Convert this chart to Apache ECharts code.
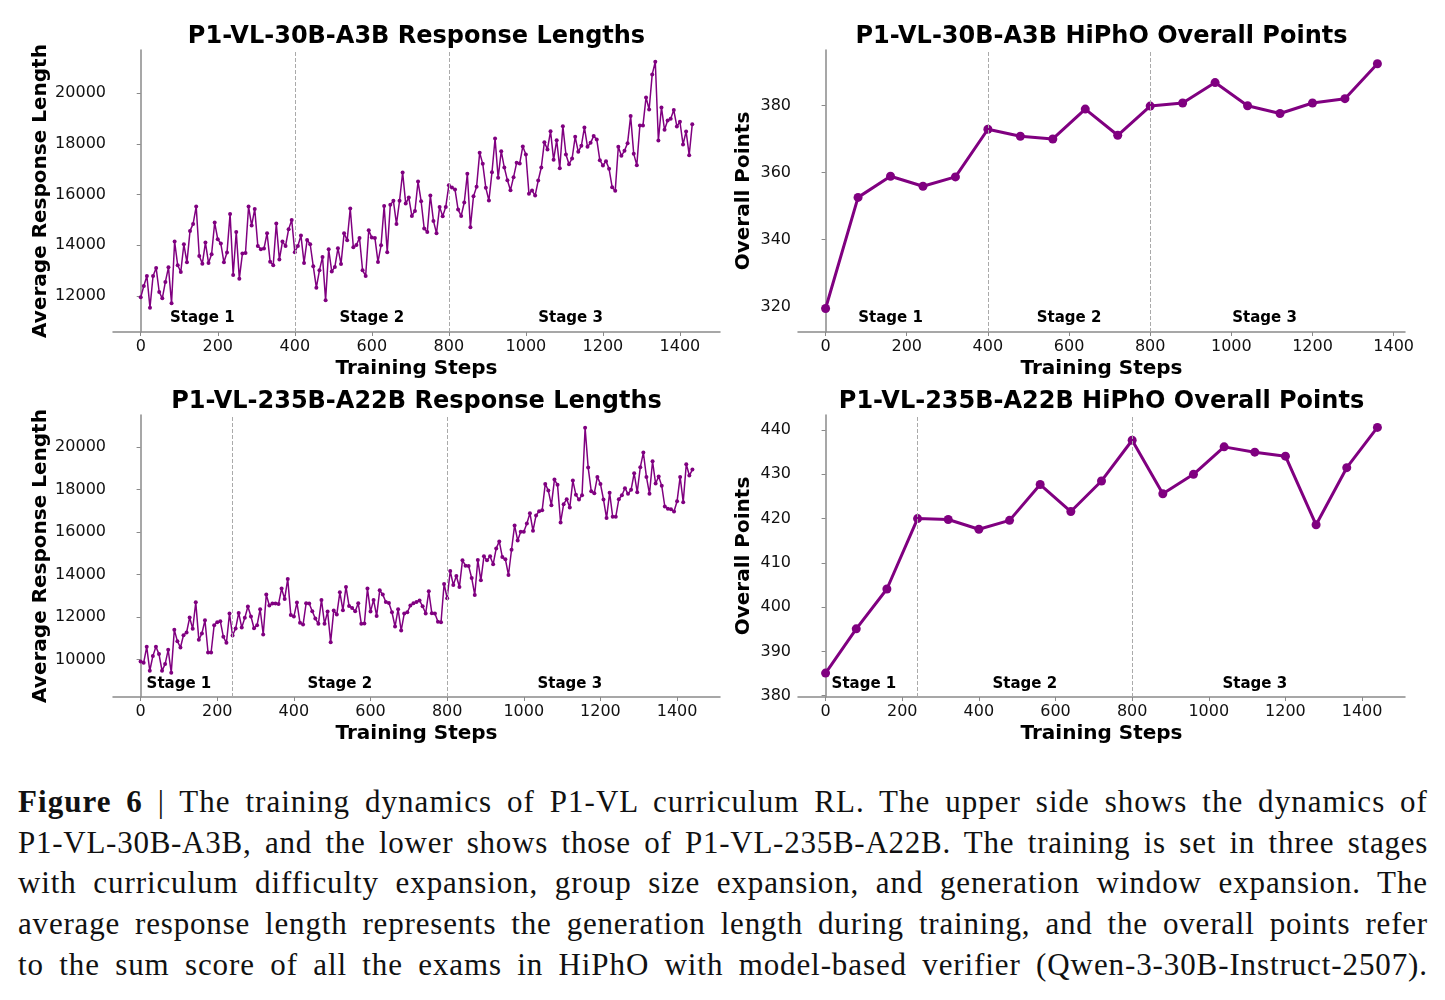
<!DOCTYPE html>
<html>
<head>
<meta charset="utf-8">
<script src="https://cdn.jsdelivr.net/npm/echarts@6/dist/echarts.min.js"></script>
<style>
  body { margin: 0; background: #fff; }
  #chart { position: absolute; left: 0; top: 0; width: 1445px; height: 760px; }
  #caption {
    position: absolute; left: 18px; top: 782px; width: 1410px;
    font-family: "Liberation Serif", "Times New Roman", serif;
    font-size: 31px; line-height: 40.7px; color: #111;
  }
  #caption div { text-align: justify; text-align-last: justify; white-space: nowrap; }
</style>
</head>
<body>
<div id="chart"></div>
<div id="caption">
  <div><b>Figure 6</b> | The training dynamics of P1-VL curriculum RL. The upper side shows the dynamics of</div>
  <div>P1-VL-30B-A3B, and the lower shows those of P1-VL-235B-A22B. The training is set in three stages</div>
  <div>with curriculum difficulty expansion, group size expansion, and generation window expansion. The</div>
  <div>average response length represents the generation length during training, and the overall points refer</div>
  <div>to the sum score of all the exams in HiPhO with model-based verifier (Qwen-3-30B-Instruct-2507).</div>
</div>
<script>
// response length is logged every 8 steps
const lenStepSize = 8;

const len30 = [
  11947, 12395, 12790, 11539, 12790, 13105, 12158, 11908, 12553, 13132,
  11710, 14145, 13211, 12948, 14040, 13329, 14566, 14843, 15527, 13579,
  13276, 14106, 13303, 13645, 14895, 14237, 14066, 13329, 13711, 15237,
  12829, 14527, 12684, 13671, 13698, 15527, 14777, 15435, 13974, 13842,
  13869, 14474, 13355, 13211, 14856, 13434, 14145, 13974, 14632, 15000,
  13724, 13974, 14382, 13303, 14211, 14040, 13171, 12329, 13013, 13540,
  11829, 13842, 12961, 13145, 13882, 13263, 14474, 14198, 15448, 13921,
  14013, 14290, 13013, 12790, 14593, 14303, 14290, 13342, 14000, 15553,
  13724, 15593, 15751, 14843, 15751, 16869, 15645, 15882, 15158, 15356,
  16514, 15737, 14658, 14527, 15961, 14961, 14474, 15514, 15145, 15514,
  16369, 16277, 16198, 15408, 15158, 15685, 16817, 14711, 15935, 16303,
  17646, 17211, 16264, 15764, 16882, 18212, 16659, 17711, 17066, 16567,
  16172, 16685, 17251, 17225, 17896, 17580, 16027, 16159, 15961, 16553,
  17066, 18067, 17777, 18501, 17369, 18146, 17040, 18698, 17580, 17198,
  17422, 18277, 17685, 17922, 18646, 17883, 18040, 18304, 18172, 17356,
  17146, 17317, 17014, 16290, 16145, 17883, 17527, 17725, 18027, 19093,
  17606, 17159, 18725, 18725, 19830, 19356, 20738, 21238, 18133, 19435,
  18554, 18922, 18988, 19330, 18685, 18870, 17975, 18488, 17554, 18777
];

const len235 = [
  9906, 9843, 10595, 9467, 10157, 10595, 10251, 9467, 9781, 10454,
  9373, 11395, 10862, 10564, 11144, 11269, 11974, 11442, 12695, 10925,
  11222, 11849, 10329, 10329, 11614, 11755, 11802, 11066, 10784, 12162,
  11128, 11457, 12194, 11504, 11959, 12492, 12021, 11473, 11614, 12366,
  11175, 13056, 12539, 12633, 12633, 12617, 13338, 12852, 13792, 12100,
  12021, 12680, 11724, 11645, 12648, 12633, 12272, 11927, 11677, 12805,
  11677, 12256, 10815, 12303, 12115, 13165, 12319, 13416, 12523, 12429,
  12272, 12648, 11677, 11692, 13338, 12256, 12805, 12053, 13259, 13056,
  12711, 12664, 12225, 11551, 12366, 11363, 12162, 12225, 12539, 12648,
  12711, 12774, 12507, 12162, 13212, 12178, 12162, 11771, 11755, 13557,
  12883, 14168, 13510, 13933, 13416, 14670, 14419, 14403, 13839, 13040,
  14685, 13729, 14858, 14670, 14858, 14482, 15234, 15563, 14826, 14717,
  13980, 15171, 16315, 15610, 16017, 16017, 16409, 16895, 16064, 16785,
  16989, 17036, 18274, 17960, 17271, 18477, 18227, 16456, 17318, 17553,
  17161, 18430, 17757, 17537, 17741, 20922, 19042, 17929, 17835, 18603,
  18274, 17537, 16660, 17851, 16722, 16722, 17553, 17741, 18070, 17804,
  17992, 18775, 17882, 19057, 19747, 18603, 17804, 19339, 18289, 18619,
  18180, 17208, 17099, 17083, 16973, 17459, 18603, 17412, 19198, 18666,
  18948
];

const hiphoSteps30 = [0, 80, 160, 240, 320, 400, 480, 560, 640, 720, 800, 880, 960, 1040, 1120, 1200, 1280, 1360];
const hipho30 = [319.5, 352.6, 358.9, 355.9, 358.7, 372.9, 370.8, 370.0, 378.9, 371.1, 379.8, 380.7, 386.8, 379.9, 377.6, 380.7, 382.0, 392.4];

const hiphoSteps235 = [0, 80, 160, 240, 320, 400, 480, 560, 640, 720, 800, 880, 960, 1040, 1120, 1200, 1280, 1360, 1440];
const hipho235 = [385.1, 395.1, 404.1, 420.0, 419.8, 417.6, 419.6, 427.7, 421.6, 428.5, 437.7, 425.6, 430.0, 436.2, 435.0, 434.1, 418.6, 431.5, 440.6];

const xTicks = [0, 200, 400, 600, 800, 1000, 1200, 1400];
const yTicksLen30 = [12000, 14000, 16000, 18000, 20000];
const yTicksLen235 = [10000, 12000, 14000, 16000, 18000, 20000];
const yTicksHipho30 = [320, 340, 360, 380];
const yTicksHipho235 = [380, 390, 400, 410, 420, 430, 440];

const stageBounds30 = [400, 800];
const stageBounds235 = [240, 800];
const stageNames = ['Stage 1', 'Stage 2', 'Stage 3'];

const titles = [
  'P1-VL-30B-A3B Response Lengths',
  'P1-VL-30B-A3B HiPhO Overall Points',
  'P1-VL-235B-A22B Response Lengths',
  'P1-VL-235B-A22B HiPhO Overall Points'
];

const FONT = 'DejaVu Sans';
const PURPLE = '#800080';
const SPINE = '#8a8a8a';

const toPairs = (xs, ys) => ys.map((v, i) => [xs[i], v]);
const lenPairs = ys => ys.map((v, i) => [i * lenStepSize, v]);
const plain = v => String(v);

const grids = [
  { left: 113, top: 50, width: 607, height: 282 },
  { left: 798, top: 50, width: 607, height: 282 },
  { left: 113, top: 415, width: 607, height: 282 },
  { left: 798, top: 415, width: 607, height: 282 }
];

function xAxis(gi, min, max) {
  return {
    type: 'value', gridIndex: gi, min: min, max: max,
    name: 'Training Steps', nameLocation: 'middle', nameGap: 27,
    nameTextStyle: { fontFamily: FONT, fontSize: 20, fontWeight: 'bold', color: '#000' },
    splitLine: { show: false },
    axisLine: { lineStyle: { color: SPINE, width: 1.5 } },
    axisTick: { customValues: xTicks, length: 4, lineStyle: { color: SPINE, width: 1 } },
    axisLabel: { customValues: xTicks, formatter: plain, fontFamily: FONT, fontSize: 16, color: '#111', margin: 7 }
  };
}

function yAxis(gi, min, max, ticks, name, gap) {
  return {
    type: 'value', gridIndex: gi, min: min, max: max,
    name: name, nameLocation: 'middle', nameGap: gap,
    nameTextStyle: { fontFamily: FONT, fontSize: 20, fontWeight: 'bold', color: '#000' },
    splitLine: { show: false },
    axisLine: { show: true, lineStyle: { color: SPINE, width: 1.5 } },
    axisTick: { show: true, customValues: ticks, length: 4, lineStyle: { color: SPINE, width: 1 } },
    axisLabel: { customValues: ticks, formatter: plain, fontFamily: FONT, fontSize: 16, color: '#111', margin: 7 }
  };
}

function stageMarks(bounds, labelX, labelY) {
  return {
    markLine: {
      silent: true, symbol: 'none', label: { show: false },
      lineStyle: { type: 'dashed', color: '#aaa', width: 1 },
      data: bounds.map(b => ({ xAxis: b }))
    },
    markPoint: {
      silent: true, symbol: 'rect', symbolSize: 1,
      itemStyle: { color: 'rgba(0,0,0,0)' },
      label: { show: true, position: 'inside', formatter: '{b}', fontFamily: FONT, fontSize: 15, fontWeight: 'bold', color: '#000' },
      data: stageNames.map((n, i) => ({ name: n, coord: [labelX[i], labelY] }))
    }
  };
}

function series(gi, data, big, bounds, labelX, labelY) {
  return Object.assign({
    type: 'line', xAxisIndex: gi, yAxisIndex: gi, data: data,
    showSymbol: true, showAllSymbol: true, symbol: 'circle',
    symbolSize: big ? 9 : 4,
    lineStyle: { color: PURPLE, width: big ? 3 : 1.5 },
    itemStyle: { color: PURPLE },
    emphasis: { disabled: true }
  }, stageMarks(bounds, labelX, labelY));
}

const centers = grids.map(g => g.left + g.width / 2);
const titleTops = [25, 25, 390, 390];

const option = {
  animation: false,
  backgroundColor: '#fff',
  title: titles.map((t, i) => ({
    text: t, left: centers[i], top: titleTops[i], padding: 0,
    textAlign: 'center', textVerticalAlign: 'top',
    textStyle: { fontFamily: FONT, fontSize: 24, fontWeight: 'bold', color: '#000' }
  })),
  grid: grids.map(g => Object.assign({ outerBoundsMode: 'none' }, g)),
  xAxis: [
    xAxis(0, -72, 1504),
    xAxis(1, -68, 1428),
    xAxis(2, -72, 1512),
    xAxis(3, -72, 1512)
  ],
  yAxis: [
    yAxis(0, 10580, 21700, yTicksLen30, 'Average Response Length', 60),
    yAxis(1, 312.5, 396.5, yTicksHipho30, 'Overall Points', 44),
    yAxis(2, 8230, 21520, yTicksLen235, 'Average Response Length', 60),
    yAxis(3, 379.7, 443.4, yTicksHipho235, 'Overall Points', 44)
  ],
  series: [
    series(0, lenPairs(len30), false, stageBounds30, [160, 600, 1116], 11130),
    series(1, toPairs(hiphoSteps30, hipho30), true, stageBounds30, [160, 600, 1082], 316.7),
    series(2, lenPairs(len235), false, stageBounds235, [100, 520, 1120], 8840),
    series(3, toPairs(hiphoSteps235, hipho235), true, stageBounds235, [100, 520, 1120], 382.6)
  ]
};

const myChart = echarts.init(document.getElementById('chart'), null, { renderer: 'canvas' });
myChart.setOption(option);
window.addEventListener('resize', function () {
  myChart.resize();
});

// spread the slack of each caption line over letters as well as spaces
const capWidth = 1410;
document.querySelectorAll('#caption div').forEach(function (line) {
  const probe = document.createElement('span');
  probe.innerHTML = line.innerHTML;
  probe.style.whiteSpace = 'nowrap';
  document.getElementById('caption').appendChild(probe);
  const natural = probe.getBoundingClientRect().width;
  probe.remove();
  const chars = line.textContent.length;
  const slack = capWidth - natural;
  if (slack > 0) line.style.letterSpacing = (slack * 0.5 / chars).toFixed(2) + 'px';
});
</script>
</body>
</html>
